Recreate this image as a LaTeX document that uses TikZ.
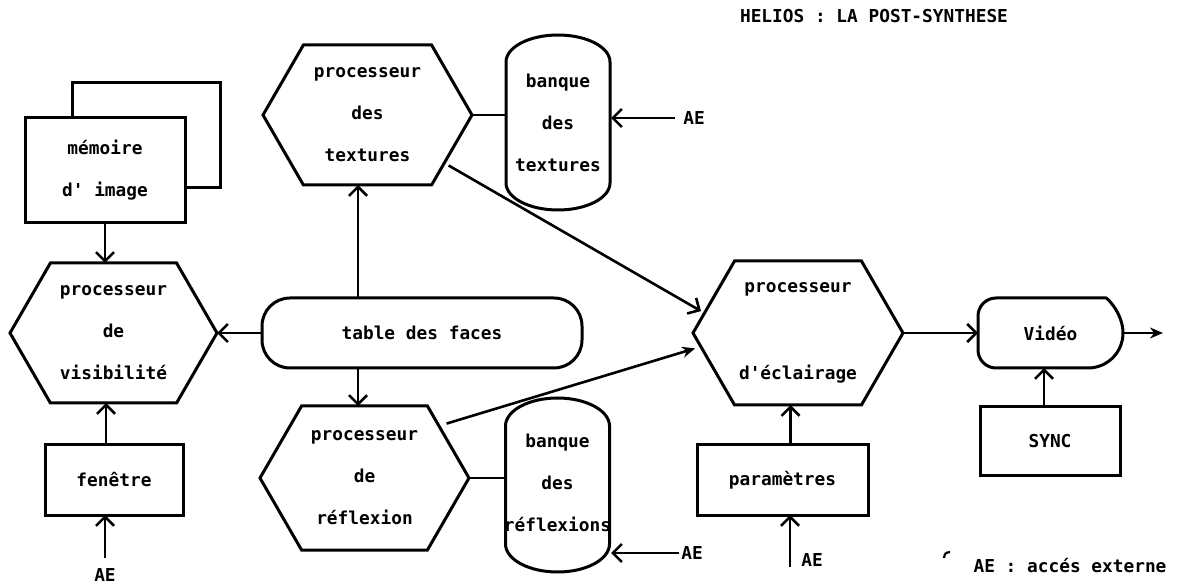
\documentclass[tikz,border=0pt]{standalone}
\usepackage{fontspec}
\newfontfamily\plotfont{DejaVu Sans Mono}[BoldFont={DejaVu Sans Mono Bold}]
\usetikzlibrary{arrows.meta,shapes.symbols}
\begin{document}
\begin{tikzpicture}[x=1pt,y=1pt,
  every node/.style={font=\plotfont\bfseries\fontsize{17.8}{42}\selectfont, inner sep=0pt, outer sep=0pt},
  box/.style={draw, line width=3pt},
  rectbox/.style={box, rectangle, align=center},
  hexbox/.style={box, signal, signal to=west and east, signal pointer angle=120, align=center},
  bank/.style={rectangle, align=center},
  link/.style={line width=2.6pt},
  arr/.style={link, -{Straight Barb[length=9pt,width=18pt]}},
  farr/.style={link, -{Stealth[length=13pt,width=11pt]}}
]
\useasboundingbox (0,0) rectangle (1187,-585);

% title
\node (title) at (874,-16) {HELIOS : LA POST-SYNTHESE};

% processors
\node[hexbox, minimum width=207pt, minimum height=140pt] (vis) at (113.5,-333) {processeur\\de\\visibilité};
\node[hexbox, minimum width=209pt, minimum height=140pt] (tex) at (367.5,-115) {processeur\\des\\textures};
\node[hexbox, minimum width=209pt, minimum height=144pt] (ref) at (364.5,-478) {processeur\\de\\réflexion};
\node[hexbox, minimum width=210pt, minimum height=144pt] (ecl) at (798,-333) {processeur\\[45pt]d'éclairage};

% image memory with its second plane behind
\node[rectbox, minimum width=160pt, minimum height=105pt] (mem) at (105,-170.5) {mémoire\\d' image};
\draw[box] ([xshift=47pt]mem.north west) -- ++(0,35pt) -| ([xshift=35pt,yshift=35pt]mem.south east) -- ([yshift=35pt]mem.south east);

% banks: straight sides closed by elliptic ends
\node[bank] (bt) at (558,-122.5) {banque\\des\\textures};
\draw[box] ([shift={(52pt,60.5pt)}]bt.center) arc[start angle=0,end angle=180,x radius=52pt,y radius=27pt]
  -- ([shift={(-52pt,-60.5pt)}]bt.center) arc[start angle=180,end angle=360,x radius=52pt,y radius=27pt] -- cycle;
\coordinate (btW) at (506,-118);
\coordinate (btE) at (611,-118);

\node[bank] (br) at (557.5,-483) {banque\\des\\réflexions};
\draw[box] ([shift={(52pt,57pt)}]br.center) arc[start angle=0,end angle=180,x radius=52pt,y radius=28pt]
  -- ([shift={(-52pt,-61pt)}]br.center) arc[start angle=180,end angle=360,x radius=52pt,y radius=28pt] -- cycle;
\coordinate (brW) at (505.5,-478);
\coordinate (brE) at (611,-553);

\node[box, rectangle, rounded corners=28pt, minimum width=320pt, minimum height=70pt] (tab) at (422,-333) {table des faces};

\node[rectbox, minimum width=138pt, minimum height=70pt] (fen) at (114,-480) {fenêtre};
\node[rectbox, minimum width=171pt, minimum height=70pt] (par) at (782.5,-480) {paramètres};
\node[rectbox, minimum width=140pt, minimum height=68pt] (syn) at (1050,-441) {SYNC};

% video output stage
\node[rectangle, minimum width=145pt, minimum height=70pt] (vid) at (1050.5,-333) {Vidéo};
\draw[box] ([xshift=-35pt]vid.north east) arc[start angle=90,end angle=-90,radius=35pt]
  [rounded corners=18pt] -- (vid.south west) -- (vid.north west) -- cycle;

% external access labels
\node (ae1) at (105,-575) {AE};
\node (ae2) at (694,-118) {AE};
\node (ae4) at (692,-553) {AE};
\node (ae3) at (812,-560) {AE};
\node (leg) at (1070,-566) {AE : accés externe};
\draw[line width=2.2pt] (944,-558) .. controls (945,-553) .. (950,-552);

% connections
\draw[arr] (mem.south) -- (mem.south |- vis.north);
\draw[arr] ([xshift=-8pt]fen.north) -- ([xshift=-8pt]fen.north |- vis.south);
\draw[arr] ([yshift=11pt]ae1.north) -- (ae1.north |- fen.south);

\draw[link] (tex.east) -- (tex.east -| btW);
\draw[arr] ([xshift=-8pt]ae2.west) -- (btE);

\draw[arr] ([xshift=-64pt]tab.north) -- ([xshift=-64pt]tab.north |- tex.south);
\draw[arr] ([xshift=-64pt]tab.south) -- ([xshift=-64pt]tab.south |- ref.north);
\draw[arr] (tab.west) -- (vis.east);

\draw[link] (ref.east) -- (brW);
\draw[arr] ([xshift=-2pt]ae4.west) -- (brE);

\draw[arr, shorten <=5pt, shorten >=4pt] (tex.-32) -- (ecl.168);
\draw[farr, shorten <=8pt, shorten >=6pt] (ref.35.5) -- (ecl.188.7);

\draw[arr] ([xshift=8pt]par.north) -- ([xshift=8pt]par.north |- ecl.south);
\coordinate (aepar) at (790,-567);
\draw[arr] (aepar) -- (aepar |- par.south);

\draw[arr] (ecl.east) -- (vid.west);
\draw[arr] ([xshift=-6pt]syn.north) -- ([xshift=-6pt]syn.north |- vid.south);
\coordinate (out) at (1163,-333);
\draw[farr] (vid.east) -- (out);
\end{tikzpicture}
\end{document}
